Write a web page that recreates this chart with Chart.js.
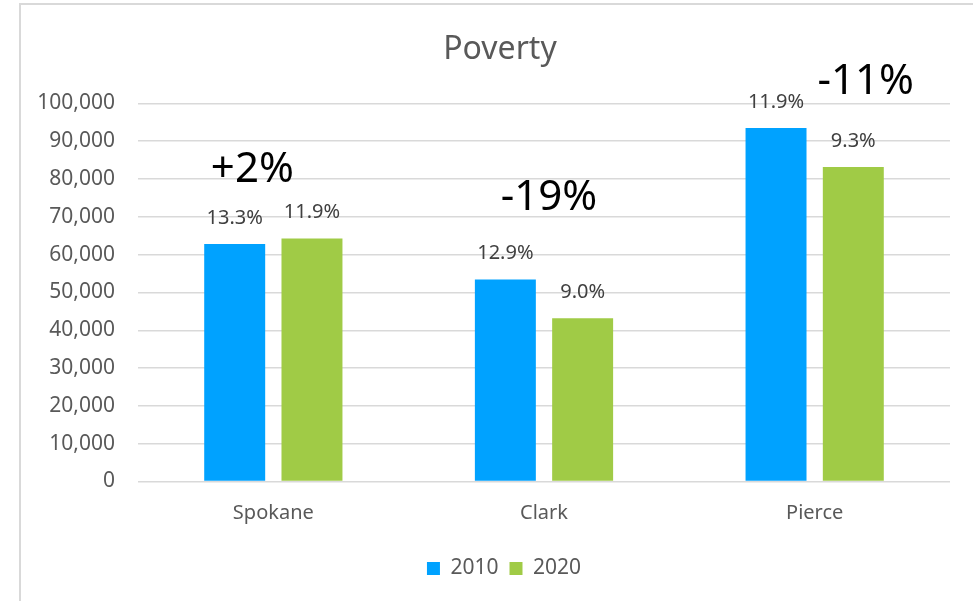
<!DOCTYPE html>
<html>
<head>
<meta charset="utf-8">
<script src="https://cdn.jsdelivr.net/npm/chart.js@4.4.1/dist/chart.umd.min.js"></script>
<style>
    html, body {margin: 0; padding: 0; background: #fff; overflow: hidden;}
    #frame {position: absolute; left: 19px; top: 3px; width: 980px; height: 620px;
        border-left: 2px solid #d9d9d9; border-top: 2px solid #d9d9d9;}
    #wrap {position: absolute; left: 0; top: 0; width: 973px; height: 601px;}
</style>
</head>
<body>
<div id="frame"></div>
<div id="wrap"><canvas id="chart" width="973" height="601"></canvas></div>
<script>
// data
let categories = ["Spokane", "Clark", "Pierce"]
let years = ["2010", "2020"]
let values2010 = [62800, 53400, 93500]
let values2020 = [64300, 43200, 83200]
let rates2010 = ["13.3%", "12.9%", "11.9%"]
let rates2020 = ["11.9%", "9.0%", "9.3%"]
let changes = ["+2%", "-19%", "-11%"]
let yMin = 0
let yMax = 100000
let yStep = 10000

let blue = "#00a2ff"
let green = "#a0cb46"
let font = "'Noto Sans', 'DejaVu Sans', sans-serif"

// percent labels above every bar
let rateLabels = {
    id: "rateLabels",
    afterDatasetsDraw(chart) {
        let ctx = chart.ctx
        let rates = [rates2010, rates2020]
        ctx.save()
        ctx.font = "20px " + font
        ctx.fillStyle = "#404040"
        ctx.textAlign = "center"
        ctx.textBaseline = "middle"
        chart.data.datasets.forEach((ds, i) => {
            chart.getDatasetMeta(i).data.forEach((bar, j) => {
                ctx.fillText(rates[i][j], bar.x, bar.y - 26)
            })
        })
        ctx.restore()
    }
}

// the big change labels, anchored to the category and a y value
let changeLabels = {
    id: "changeLabels",
    afterDatasetsDraw(chart, args, opts) {
        let ctx = chart.ctx
        let x = chart.scales.x
        let y = chart.scales.y
        ctx.save()
        ctx.font = "42px " + font
        ctx.fillStyle = "#000"
        ctx.textAlign = "center"
        ctx.textBaseline = "middle"
        changes.forEach((txt, i) => {
            ctx.fillText(txt, x.getPixelForValue(i) + opts.dx[i], y.getPixelForValue(opts.level[i]))
        })
        ctx.restore()
    }
}

// title and legend sit a bit right of the plot centre in the original
let nudge = {
    id: "nudge",
    afterLayout(chart, args, opts) {
        chart.titleBlock.left += opts.title
        chart.titleBlock.right += opts.title
        chart.legend.left += opts.legend
        chart.legend.right += opts.legend
    }
}

let chart = new Chart("chart", {
    type: "bar",
    data: {
        labels: categories,
        datasets: [
            {label: years[0], data: values2010, backgroundColor: blue},
            {label: years[1], data: values2020, backgroundColor: green}
        ]
    },
    options: {
        responsive: false,
        animation: false,
        layout: {padding: {left: 20, right: 23, top: 0, bottom: 12}},
        datasets: {bar: {categoryPercentage: 0.571, barPercentage: 0.789}},
        scales: {
            x: {
                grid: {display: false, drawTicks: false},
                border: {display: false},
                ticks: {color: "#595959", font: {family: font, size: 20}, padding: 20},
                afterFit(scale) { scale.height = 65.5 }
            },
            y: {
                min: yMin, max: yMax,
                grid: {color: "#d9d9d9", lineWidth: 1.5, drawTicks: false},
                border: {display: false},
                ticks: {
                    stepSize: yStep, color: "#595959", padding: 23,
                    font: {family: font, size: 21},
                    callback: v => v.toLocaleString("en-US")
                },
                afterFit(scale) { scale.width = 118 }
            }
        },
        plugins: {
            title: {
                display: true, text: "Poverty", color: "#595959",
                font: {family: font, size: 32, weight: "normal"},
                padding: {top: 31, bottom: 34}
            },
            legend: {
                position: "bottom",
                labels: {
                    color: "#595959", font: {family: font, size: 21},
                    boxWidth: 13, boxHeight: 13, padding: 11
                }
            },
            tooltip: {enabled: false},
            changeLabels: {dx: [-21, 5, 51], level: [82400, 75000, 105600]},
            nudge: {title: 15, legend: 19}
        }
    },
    plugins: [rateLabels, changeLabels, nudge]
})
</script>
</body>
</html>
